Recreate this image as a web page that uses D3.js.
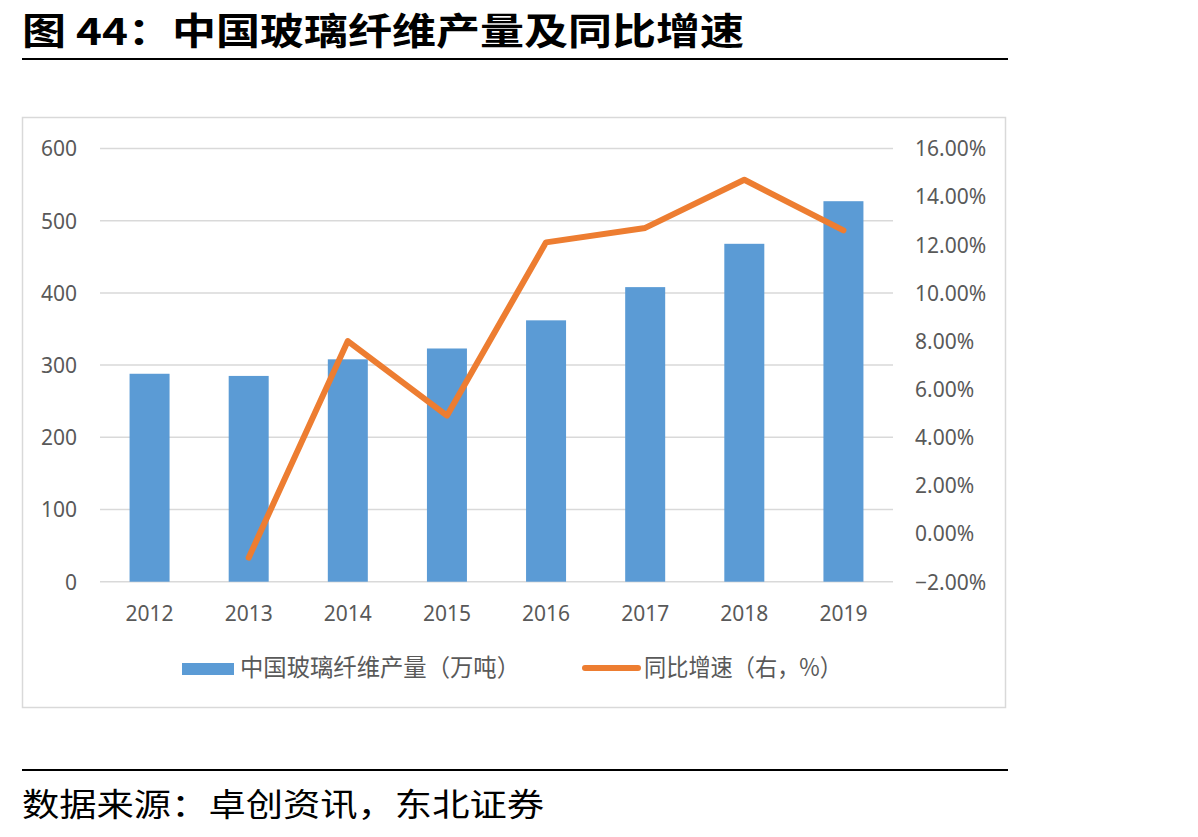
<!DOCTYPE html>
<html>
<head>
<meta charset="utf-8">
<script src="https://cdn.jsdelivr.net/npm/d3@7"></script>
<style>
  html, body { margin: 0; padding: 0; background: #fff; }
  svg { display: block; }
</style>
</head>
<body>
<div id="chart"></div>
<script>
// data
var years = ['2012', '2013', '2014', '2015', '2016', '2017', '2018', '2019'];
var output = [288, 285, 308, 323, 362, 408, 468, 527];          // 万吨
var growth = [null, -1.0, 8.0, 4.9, 12.1, 12.7, 14.7, 12.6];     // %
var leftTicks = [0, 100, 200, 300, 400, 500, 600];
var rightTicks = [-2, 0, 2, 4, 6, 8, 10, 12, 14, 16];

var titleText = '图 44：中国玻璃纤维产量及同比增速';
var sourceText = '数据来源：卓创资讯，东北证券';
var barName = '中国玻璃纤维产量（万吨）';
var lineName = '同比增速（右，%）';

var W = 1198, H = 837;
var plot = { left: 100, right: 893, top: 148.5, bottom: 581.7 };
var axisColor = '#595959';
var gridColor = '#d9d9d9';
var barColor = '#5b9bd5';
var lineColor = '#ed7d31';
var font = '"Noto Sans", "Noto Sans CJK SC", sans-serif';
var cjk = '"Noto Sans CJK SC", sans-serif';

var svg = d3.select('#chart').append('svg')
  .attr('width', W)
  .attr('height', H);

// title + rule
svg.append('text')
  .attr('x', 22)
  .attr('y', 45)
  .attr('textLength', 722)
  .attr('lengthAdjust', 'spacingAndGlyphs')
  .style('font-family', cjk)
  .style('font-weight', 700)
  .style('font-size', '37px')
  .style('fill', '#000')
  .text(titleText);

svg.append('line')
  .attr('x1', 22).attr('x2', 1008)
  .attr('y1', 59).attr('y2', 59)
  .attr('stroke', '#000')
  .attr('stroke-width', 2);

// chart frame
svg.append('rect')
  .attr('x', 22.5).attr('y', 117.5)
  .attr('width', 983).attr('height', 590)
  .attr('fill', 'none')
  .attr('stroke', gridColor)
  .attr('stroke-width', 1.5);

var x = d3.scaleBand()
  .domain(years)
  .range([plot.left, plot.right]);

var yL = d3.scaleLinear()
  .domain([0, 600])
  .range([plot.bottom, plot.top]);

var yR = d3.scaleLinear()
  .domain([-2, 16])
  .range([plot.bottom, plot.top]);

// gridlines
svg.append('g')
  .selectAll('line')
  .data(leftTicks)
  .join('line')
  .attr('x1', plot.left).attr('x2', plot.right)
  .attr('y1', function (d) { return yL(d); })
  .attr('y2', function (d) { return yL(d); })
  .attr('stroke', gridColor)
  .attr('stroke-width', 1.5);

// left axis
var leftAxis = svg.append('g')
  .attr('transform', 'translate(' + (plot.left - 23) + ',0)')
  .call(d3.axisLeft(yL).tickValues(leftTicks).tickSize(0).tickPadding(0));
leftAxis.select('.domain').remove();
leftAxis.selectAll('text')
  .attr('dy', '0.35em')
  .style('font-family', font)
  .style('font-size', '21px')
  .style('fill', axisColor);

// right axis
var rightAxis = svg.append('g')
  .attr('transform', 'translate(' + (plot.right + 22) + ',0)')
  .call(d3.axisRight(yR).tickValues(rightTicks).tickSize(0).tickPadding(0)
    .tickFormat(function (d) { return d3.format('.2f')(d) + '%'; }));
rightAxis.select('.domain').remove();
rightAxis.selectAll('text')
  .attr('dy', '0.35em')
  .style('font-family', font)
  .style('font-size', '21px')
  .style('fill', axisColor);

// bottom axis
var bottomAxis = svg.append('g')
  .attr('transform', 'translate(0,' + (plot.bottom + 24) + ')')
  .call(d3.axisBottom(x).tickSize(0).tickPadding(0));
bottomAxis.select('.domain').remove();
bottomAxis.selectAll('text')
  .attr('dy', '0.75em')
  .style('font-family', font)
  .style('font-size', '21px')
  .style('fill', axisColor);

// bars
var barW = 40;
svg.append('g')
  .selectAll('rect')
  .data(output)
  .join('rect')
  .attr('x', function (d, i) { return x(years[i]) + x.bandwidth() / 2 - barW / 2; })
  .attr('y', function (d) { return yL(d); })
  .attr('width', barW)
  .attr('height', function (d) { return yL(0) - yL(d); })
  .attr('fill', barColor);

// growth line
var line = d3.line()
  .defined(function (d) { return d != null; })
  .x(function (d, i) { return x(years[i]) + x.bandwidth() / 2; })
  .y(function (d) { return yR(d); });

svg.append('path')
  .datum(growth)
  .attr('d', line)
  .attr('fill', 'none')
  .attr('stroke', lineColor)
  .attr('stroke-width', 6)
  .attr('stroke-linejoin', 'round')
  .attr('stroke-linecap', 'round');

// legend
var legend = svg.append('g');
legend.append('rect')
  .attr('x', 182).attr('y', 663)
  .attr('width', 52).attr('height', 12)
  .attr('fill', barColor);
legend.append('text')
  .attr('x', 240).attr('y', 668)
  .attr('dy', '0.35em')
  .attr('textLength', 280)
  .attr('lengthAdjust', 'spacingAndGlyphs')
  .style('font-family', cjk)
  .style('font-size', '24px')
  .style('fill', axisColor)
  .text(barName);

legend.append('line')
  .attr('x1', 585).attr('x2', 638)
  .attr('y1', 668).attr('y2', 668)
  .attr('stroke', lineColor)
  .attr('stroke-width', 6)
  .attr('stroke-linecap', 'round');
legend.append('text')
  .attr('x', 644).attr('y', 668)
  .attr('dy', '0.35em')
  .attr('textLength', 198)
  .attr('lengthAdjust', 'spacingAndGlyphs')
  .style('font-family', cjk)
  .style('font-size', '24px')
  .style('fill', axisColor)
  .text(lineName);

// source + rule
svg.append('line')
  .attr('x1', 22).attr('x2', 1008)
  .attr('y1', 770).attr('y2', 770)
  .attr('stroke', '#000')
  .attr('stroke-width', 2);

svg.append('text')
  .attr('x', 22)
  .attr('y', 816)
  .attr('textLength', 522)
  .attr('lengthAdjust', 'spacingAndGlyphs')
  .style('font-family', cjk)
  .style('font-size', '32px')
  .style('fill', '#000')
  .text(sourceText);
</script>
</body>
</html>
